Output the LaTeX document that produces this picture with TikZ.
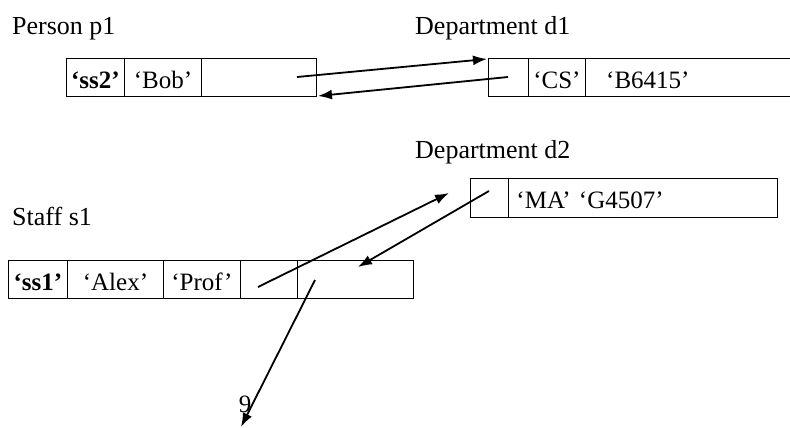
\documentclass[tikz,border=0pt]{standalone}
\usepackage{fontspec}
\setmainfont{Liberation Serif}
\usetikzlibrary{arrows.meta}
\begin{document}
\begin{tikzpicture}[x=1pt,y=-1pt,
  every node/.style={font=\fontsize{25}{29}\selectfont},
  title/.style={anchor=base west, inner sep=0, font=\fontsize{26}{30}\selectfont},
  cell/.style={draw, line width=0.9pt, rectangle, anchor=north west, inner sep=0,
    minimum height=38pt, text height=22pt, text depth=0pt},
  opencell/.style={rectangle, anchor=north west, inner sep=0,
    minimum height=38pt, text height=22pt, text depth=0pt},
  ref/.style={line width=1.8pt, -{Latex[length=14pt,width=10pt]}}
]
\useasboundingbox (0,0) rectangle (790,428);

% Person p1
\node[title] (tp1) at (12,35) {Person p1};
\node[cell, minimum width=58pt] (p1a) at (66,58) {\textbf{‘ss2’}};
\node[cell, minimum width=77pt] (p1b) at (124,58) {‘Bob’};
\node[cell, minimum width=115pt] (p1c) at (201,58) {};

% Department d1 (last field runs off the right edge)
\node[title] (td1) at (415,35) {Department d1};
\node[cell, minimum width=40pt] (d1a) at (488,58) {};
\node[cell, minimum width=57pt] (d1b) at (528,58) {‘CS’};
\node[opencell, minimum width=205pt, text width=205pt, align=left] (d1c) at (585,58) {\hspace*{21pt}‘B6415’};
\draw[line width=0.9pt] (d1c.north west) -- (d1c.north east);
\draw[line width=0.9pt] (d1c.south west) -- (d1c.south east);

% Department d2
\node[title] (td2) at (415,158) {Department d2};
\node[cell, minimum width=38pt, minimum height=39pt] (d2a) at (470,178) {};
\node[cell, minimum width=269pt, minimum height=39pt, text width=269pt, align=left] (d2b) at (508,178) {\hspace*{8pt}‘MA’ ‘G4507’};

% Staff s1
\node[title] (ts1) at (12,225) {Staff s1};
\node[cell, minimum width=59pt] (s1a) at (8,260) {\textbf{‘ss1’}};
\node[cell, minimum width=96pt] (s1b) at (67,260) {‘Alex’};
\node[cell, minimum width=77pt] (s1c) at (163,260) {‘Prof’};
\node[cell, minimum width=57pt] (s1d) at (240,260) {};
\node[cell, minimum width=116pt] (s1e) at (297,260) {};

% reference end points
\coordinate (p1out) at (297,77);
\coordinate (d1in)  at (487,59);
\coordinate (d1out) at (508,77);
\coordinate (p1in)  at (318,96);
\coordinate (s1out) at (258,287);
\coordinate (d2in)  at (449,193);
\coordinate (d2out) at (489,191);
\coordinate (s1in)  at (358,267);
\coordinate (s1eout) at (315,280);
\coordinate (nine)  at (241,427);

\draw[ref] (p1out) -- (d1in);
\draw[ref] (d1out) -- (p1in);
\draw[ref] (s1out) -- (d2in);
\draw[ref] (d2out) -- (s1in);
\draw[ref] (s1eout) -- (nine);

\node[inner sep=0] (n9) at (245,404) {9};
\end{tikzpicture}
\end{document}
